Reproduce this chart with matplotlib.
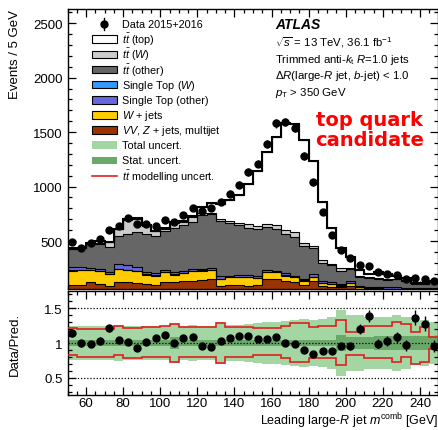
import numpy as np
import matplotlib
matplotlib.use("Agg")
import matplotlib.pyplot as plt
from matplotlib.patches import Rectangle
from matplotlib.lines import Line2D
from matplotlib.ticker import MultipleLocator

plt.rcParams['font.family'] = ['Liberation Sans', 'DejaVu Sans']
plt.rcParams['mathtext.fontset'] = 'custom'
plt.rcParams['mathtext.rm'] = 'Liberation Sans'
plt.rcParams['mathtext.it'] = 'Liberation Sans:italic'
plt.rcParams['mathtext.bf'] = 'Liberation Sans:bold'

# 5 GeV bins from 50 to 250 GeV
bin_edges = np.arange(50, 255, 5)

data_counts = [493, 438, 479, 518, 600, 640, 708, 656, 656, 640, 692, 678, 735, 800, 775, 800,
               860, 935, 1018, 1135, 1212, 1389, 1582, 1594, 1542, 1280, 1038, 763, 552, 414,
               341, 285, 270, 213, 200, 192, 155, 160, 151, 130]

# predicted yields per process, bottom of the stack first
vv_z_mj = [96, 96, 121, 105, 90, 127, 127, 115, 105, 96, 127, 121, 130, 136, 145, 151, 90, 96,
           96, 90, 96, 151, 151, 136, 121, 96, 136, 90, 81, 75, 90, 56, 50, 48, 46, 45, 44, 42,
           40, 40]
w_jets = [132, 138, 113, 116, 107, 116, 107, 106, 86, 86, 85, 70, 73, 85, 83, 83, 61, 70, 70,
          76, 64, 61, 61, 46, 45, 40, 30, 22, 24, 15, 25, 19, 15, 14, 14, 15, 14, 14, 15, 15]
st_w = [4, 4, 4, 4, 4, 4, 4, 4, 4, 4, 4, 4, 4, 4, 4, 4, 4, 4, 4, 4, 4, 4, 4, 4, 4, 4, 4, 4, 3,
        3, 3, 3, 3, 3, 3, 3, 3, 3, 3, 3]
st_other = [30, 20, 12, 18, 15, 42, 45, 35, 25, 22, 15, 20, 15, 15, 12, 12, 22, 14, 18, 18, 16,
            14, 12, 20, 14, 15, 30, 18, 12, 12, 15, 12, 12, 12, 12, 12, 11, 10, 10, 10]
tt_other = [161, 174, 225, 233, 230, 256, 286, 321, 349, 343, 357, 404, 422, 438, 496, 497, 506,
            480, 459, 434, 428, 397, 381, 358, 351, 300, 236, 169, 162, 123, 107, 83, 82, 75, 71,
            73, 61, 38, 42, 53]
tt_w = [8, 6, 8, 8, 45, 63, 125, 120, 70, 40, 27, 48, 35, 40, 22, 12, 24, 24, 22, 31, 30, 31, 38,
        40, 47, 23, 20, 20, 12, 24, 15, 9, 11, 11, 6, 6, 6, 5, 6, 6]
tt_top = [2, 2, 2, 16, 3, 7, 5, 7, 10, 5, 8, 10, 7, 16, 53, 90, 133, 189, 253, 374, 505, 664, 812,
          980, 992, 950, 777, 540, 325, 180, 102, 54, 22, 52, 43, 23, 21, 5, 2, 9]

# relative uncertainties on the prediction
tot_unc = [0.25, 0.24, 0.24, 0.24, 0.25, 0.26, 0.25, 0.25, 0.25, 0.25, 0.25, 0.29, 0.25, 0.26,
           0.25, 0.25, 0.30, 0.26, 0.26, 0.27, 0.29, 0.30, 0.30, 0.32, 0.33, 0.34, 0.33, 0.35,
           0.37, 0.48, 0.40, 0.40, 0.38, 0.38, 0.38, 0.40, 0.37, 0.32, 0.33, 0.30]
stat_unc = [0.04, 0.04, 0.04, 0.04, 0.04, 0.04, 0.04, 0.04, 0.04, 0.04, 0.04, 0.08, 0.04, 0.04,
            0.04, 0.04, 0.04, 0.04, 0.04, 0.04, 0.05, 0.05, 0.05, 0.05, 0.05, 0.05, 0.05, 0.05,
            0.05, 0.12, 0.09, 0.09, 0.09, 0.10, 0.10, 0.10, 0.10, 0.10, 0.10, 0.10]
mod_up = [0.22, 0.20, 0.20, 0.20, 0.20, 0.24, 0.22, 0.22, 0.23, 0.23, 0.24, 0.28, 0.23, 0.23,
          0.23, 0.23, 0.29, 0.23, 0.23, 0.23, 0.22, 0.22, 0.22, 0.25, 0.29, 0.29, 0.23, 0.25,
          0.25, 0.33, 0.16, 0.16, 0.25, 0.25, 0.25, 0.30, 0.27, 0.16, 0.23, 0.09]
mod_dn = [0.17, 0.20, 0.20, 0.20, 0.20, 0.17, 0.21, 0.21, 0.20, 0.20, 0.20, 0.27, 0.20, 0.20,
          0.20, 0.20, 0.29, 0.20, 0.20, 0.20, 0.18, 0.18, 0.18, 0.21, 0.28, 0.28, 0.21, 0.21,
          0.21, 0.32, 0.18, 0.18, 0.22, 0.22, 0.22, 0.28, 0.20, 0.30, 0.28, 0.08]

stack = [
    (vv_z_mj, '#993300', r'$VV$, $Z$ + jets, multijet'),
    (w_jets, '#ffcc00', r'$W$ + jets'),
    (st_w, '#3399ff', r'Single Top ($W$)'),
    (st_other, '#6666dd', 'Single Top (other)'),
    (tt_other, '#666666', r'$t\bar{t}$ (other)'),
    (tt_w, '#cccccc', r'$t\bar{t}$ ($W$)'),
    (tt_top, 'white', r'$t\bar{t}$ (top)'),
]

fig = plt.figure(figsize=(4.39, 4.31), dpi=100)
ax = fig.add_axes([0.1538, 0.3271, 0.845, 0.6497])
rax = fig.add_axes([0.1538, 0.0812, 0.845, 0.2413])

# stacked histogram
bottom = np.zeros(len(bin_edges) - 1)
for vals, col, lab in stack:
    top = bottom + np.array(vals, dtype=float)
    ax.stairs(top, bin_edges, baseline=bottom, fill=True, facecolor=col,
              edgecolor='none', zorder=2)
    ax.stairs(top, bin_edges, baseline=None, color='black', lw=0.8, zorder=3)
    bottom = top
pred = bottom
ax.stairs(pred, bin_edges, baseline=None, color='black', lw=1.5, zorder=4)

centers = 0.5 * (bin_edges[1:] + bin_edges[:-1])
data = np.array(data_counts, dtype=float)
ax.errorbar(centers, data, yerr=np.sqrt(data), fmt='o', color='black', ms=5,
            elinewidth=1, capsize=0, zorder=5)

ax.set_xlim(50, 250)
ax.set_ylim(60, 2630)
ax.yaxis.set_major_locator(MultipleLocator(500))
ax.yaxis.set_minor_locator(MultipleLocator(100))
ax.set_ylabel('Events / 5 GeV', fontsize=9.5, loc='top')
ax.tick_params(labelbottom=False)

# ratio panel
tot = np.array(tot_unc)
stat = np.array(stat_unc)
rax.stairs(1 + tot, bin_edges, baseline=1 - tot, fill=True, color='#a3d6a3', lw=0, zorder=1)
rax.stairs(1 + stat, bin_edges, baseline=1 - stat, fill=True, color='#6aa86a', lw=0, zorder=2)
rax.stairs(1 + np.array(mod_up), bin_edges, baseline=None, color='#e02020', lw=1.2, zorder=3)
rax.stairs(1 - np.array(mod_dn), bin_edges, baseline=None, color='#e02020', lw=1.2, zorder=3)
for lvl in (0.5, 1.0, 1.5):
    rax.axhline(lvl, color='black', ls=(0, (1, 1.5)), lw=0.9, zorder=2.5)
ratio = data / pred
rax.errorbar(centers, ratio, yerr=np.sqrt(data) / pred, fmt='o', color='black', ms=5,
             elinewidth=1, capsize=0, zorder=5)
rax.set_xlim(50, 250)
rax.set_ylim(0.25, 1.75)
rax.yaxis.set_major_locator(MultipleLocator(0.5))
rax.yaxis.set_minor_locator(MultipleLocator(0.1))
rax.set_yticks([0.5, 1.0, 1.5])
rax.set_yticklabels(['0.5', '1', '1.5'])
rax.set_ylabel('Data/Pred.', fontsize=9.5)
rax.yaxis.set_label_coords(-0.125, 0.5)
ax.yaxis.set_label_coords(-0.125, 1.0)
rax.set_xlabel(r'Leading large-$R$ jet $m^{\rm comb}$ [GeV]', fontsize=9, ha='right',
               va='bottom')
rax.xaxis.set_label_coords(1.0, -0.34)

for a in (ax, rax):
    a.xaxis.set_major_locator(MultipleLocator(20))
    a.xaxis.set_minor_locator(MultipleLocator(5))
    a.tick_params(which='both', direction='in', top=True, right=True, labelsize=9.5)
    a.tick_params(which='major', length=6, width=0.9)
    a.tick_params(which='minor', length=3, width=0.9)
    for s in a.spines.values():
        s.set_linewidth(1.0)
rax.tick_params(axis='x', which='major', pad=1.5)

# legend
def row_y(i):
    return 1 - (25 + 15.15 * i - 10) / 280.0

tr = ax.transAxes
leg_fs = 7.8
ax.plot([0.0995], [row_y(0)], 'o', color='black', ms=5, transform=tr, clip_on=False, zorder=6)
ax.plot([0.0995, 0.0995], [row_y(0) - 0.022, row_y(0) + 0.022], color='black', lw=1,
        transform=tr, zorder=6)
ax.text(0.146, row_y(0), 'Data 2015+2016', transform=tr, fontsize=leg_fs, va='center', zorder=6)
legend_rows = [stack[6], stack[5], stack[4], stack[2], stack[3], stack[1], stack[0],
               (None, '#a3d6a3', 'Total uncert.'), (None, '#6aa86a', 'Stat. uncert.')]
for i, (vals, col, lab) in enumerate(legend_rows, start=1):
    y = row_y(i)
    ec = 'black' if vals is not None else 'none'
    ax.add_patch(Rectangle((0.066, y - 0.0135), 0.067, 0.027, facecolor=col, edgecolor=ec,
                           lw=0.8, transform=tr, zorder=6))
    ax.text(0.146, y, lab, transform=tr, fontsize=leg_fs, va='center', zorder=6)
y = row_y(10)
ax.add_line(Line2D([0.066, 0.133], [y, y], color='#e02020', lw=1.2, transform=tr, zorder=6))
ax.text(0.146, y, r'$t\bar{t}$ modelling uncert.', transform=tr, fontsize=leg_fs, va='center',
        zorder=6)

# labels on the right
ax.text(0.559, row_y(0), 'ATLAS', transform=tr, fontsize=10, fontweight='bold',
        fontstyle='italic', va='center')
info = [r'$\sqrt{s}$ = 13 TeV, 36.1 fb$^{-1}$',
        r'Trimmed anti-$k_{\rm t}$ $R$=1.0 jets',
        r'$\Delta R$(large-$R$ jet, $b$-jet) < 1.0',
        r'$p_{\rm T}$ > 350 GeV']
for i, line in enumerate(info):
    yy = 1 - (43 + 16.7 * i - 10) / 280.0
    ax.text(0.559, yy, line, transform=tr, fontsize=8.2, va='center')

ax.text(0.813, 0.57, 'top quark\ncandidate', transform=tr, fontsize=14, color='red',
        fontweight='bold', ha='center', va='center', linespacing=1.05,
        family='DejaVu Sans', zorder=7)

fig.savefig('out.png', dpi=100)
